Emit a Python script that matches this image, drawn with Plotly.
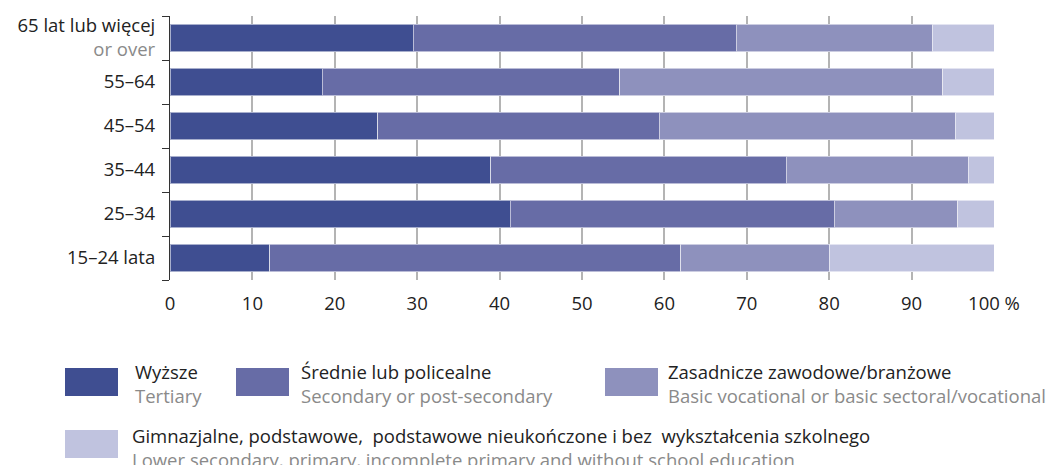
import plotly.graph_objects as go

# ---- data ----
age_groups = ["65+", "55-64", "45-54", "35-44", "25-34", "15-24"]
age_labels_pl = ["65 lat lub więcej", "55–64", "45–54", "35–44", "25–34", "15–24 lata"]
age_labels_en = ["or over", "", "", "", "", ""]

series_pl = ["Wyższe", "Średnie lub policealne", "Zasadnicze zawodowe/branżowe",
             "Gimnazjalne, podstawowe,  podstawowe nieukończone i bez  wykształcenia szkolnego"]
series_en = ["Tertiary", "Secondary or post-secondary",
             "Basic vocational or basic sectoral/vocational",
             "Lower secondary, primary, incomplete primary and without school education"]

tertiary = [29.5, 18.5, 25.2, 38.9, 41.3, 12.1]
secondary = [39.2, 36.1, 34.2, 35.9, 39.3, 49.9]
vocational = [23.8, 39.2, 35.9, 22.1, 15.0, 18.0]
lower = [7.5, 6.2, 4.7, 3.1, 4.4, 20.0]

x_ticks = [0, 10, 20, 30, 40, 50, 60, 70, 80, 90, 100]
x_ticktext = ["0", "10", "20", "30", "40", "50", "60", "70", "80", "90", "100 %"]

colors = ["#3f4e91", "#676ca6", "#8e91bd", "#c0c3df"]
GRAY = "#8a8a8a"
FONT = "Open Sans"
FS = 18.5

# page body has an 8px margin; figure coordinates are page coordinates minus 8
OFF = 8
W, H = 1055 - OFF, 465 - OFF
ML, MR, MT, MB = 170 - OFF, 1055 - 994, 16 - OFF, 465 - 280

fig = go.Figure()
for vals, name, col in zip([tertiary, secondary, vocational, lower], series_pl, colors):
    fig.add_trace(go.Bar(
        y=age_groups, x=vals, orientation="h", name=name,
        marker=dict(color=col, line=dict(color="rgba(255,255,255,0.55)", width=1)),
        showlegend=False,
    ))

ticktext_y = []
for pl, en in zip(age_labels_pl, age_labels_en):
    if en:
        ticktext_y.append(f"{pl}<br><span style='color:{GRAY}'>{en}</span>")
    else:
        ticktext_y.append(pl)

fig.update_layout(
    width=W, height=H, barmode="stack", bargap=0.38,
    margin=dict(l=ML, r=MR, t=MT, b=MB, autoexpand=False),
    paper_bgcolor="white", plot_bgcolor="white",
    font=dict(family=FONT, size=FS, color="#222"),
    xaxis=dict(range=[0, 100], tickvals=x_ticks, ticktext=x_ticktext, automargin=False,
               showgrid=True, gridcolor="#b4b4b4", gridwidth=1.5,
               zeroline=False, showline=False, ticks="", ticklabelstandoff=10,
               tickfont=dict(size=FS, color="#222")),
    yaxis=dict(categoryorder="array", categoryarray=age_groups, autorange="reversed",
               tickvals=age_groups, ticktext=ticktext_y, automargin=False,
               showline=True, linecolor="#333", linewidth=1.2,
               ticks="outside", tickson="boundaries", ticklen=7, tickcolor="#333",
               ticklabelstandoff=10, showgrid=False,
               tickfont=dict(size=FS, color="#222")),
)

# ---- custom legend (swatches + two-line labels), positions in page pixels ----
def px_x(px):
    return (px - OFF - ML) / (W - ML - MR)

def px_y(py):
    return (H - MB - (py - OFF)) / (H - MT - MB)

legend_pos = [  # (swatch x0, swatch y-center, text x, text y-center)
    (65, 382, 133, 383),
    (236, 382, 299, 383),
    (605, 382, 666, 383),
    (65, 444, 130, 447),
]
for i, (sx, sy, tx, ty) in enumerate(legend_pos):
    fig.add_shape(type="rect", xref="paper", yref="paper",
                  x0=px_x(sx), x1=px_x(sx + 53), y0=px_y(sy + 14), y1=px_y(sy - 14),
                  fillcolor=colors[i], line=dict(width=0))
    fig.add_annotation(xref="paper", yref="paper", x=px_x(tx), y=px_y(ty),
                       xanchor="left", yanchor="middle", align="left", showarrow=False,
                       text=f"{series_pl[i]}<br><span style='color:{GRAY}'>{series_en[i]}</span>",
                       font=dict(family=FONT, size=FS, color="#222"))

fig.write_html("out.html")
